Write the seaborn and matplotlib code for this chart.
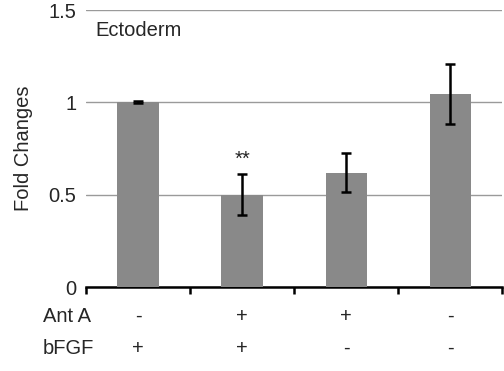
import matplotlib
matplotlib.use("Agg")
import matplotlib.pyplot as plt
import seaborn as sns
import pandas as pd
import numpy as np

conditions = ["c1", "c2", "c3", "c4"]
fold_changes = [1.0, 0.50, 0.62, 1.045]
errors = [0.005, 0.11, 0.105, 0.162]
ant_a = ["-", "+", "+", "-"]
bfgf = ["+", "+", "-", "-"]
significance = ["", "**", "", ""]
yticks = [0, 0.5, 1, 1.5]
ytick_labels = ["0", "0.5", "1", "1.5"]

sns.set_theme(style="white")
plt.rcParams['font.family'] = ['Liberation Sans', 'DejaVu Sans']
FS = 14.5

df = pd.DataFrame({"cond": conditions, "val": fold_changes})

fig = plt.figure(figsize=(5.04, 3.71), dpi=100)
ax = fig.add_axes([0.171, 0.2264, 0.826, 0.7466])

sns.barplot(data=df, x="cond", y="val", color="#898989", saturation=1,
            width=0.4, ax=ax, errorbar=None, zorder=3, linewidth=0)
ax.errorbar(np.arange(len(conditions)), fold_changes, yerr=errors, fmt="none",
            ecolor="black", elinewidth=1.8, capsize=3.5, capthick=1.8, zorder=4)

ax.set_xlim(-0.5, 3.5)
ax.set_ylim(0, 1.5)
ax.set_yticks(yticks)
ax.set_yticklabels(ytick_labels, fontsize=FS)
ax.yaxis.grid(True, color="#9a9a9a", linewidth=1)
ax.set_axisbelow(True)
ax.tick_params(axis="y", length=0, pad=7)
ax.set_xticks(np.arange(-0.5, 4.0, 1.0))
ax.set_xticklabels([])
ax.tick_params(axis="x", direction="out", length=5, width=1.8, color="black", bottom=True)
ax.set_xlabel("")
ax.set_ylabel("Fold Changes", fontsize=FS, labelpad=11)

for s in ["top", "right", "left"]:
    ax.spines[s].set_visible(False)
ax.spines["bottom"].set_color("black")
ax.spines["bottom"].set_linewidth(1.8)

ax.text(0.022, 0.925, "Ectoderm", transform=ax.transAxes, fontsize=FS, va="center", ha="left")

for i, s in enumerate(significance):
    if s:
        ax.text(i, fold_changes[i] + errors[i] + 0.03, s, ha="center", va="bottom", fontsize=FS)

trans = matplotlib.transforms.blended_transform_factory(ax.transData, fig.transFigure)
row_y = [1 - 316/371, 1 - 348/371]
fig.text(43/504, row_y[0], "Ant A", fontsize=FS, va="center", ha="left")
fig.text(43/504, row_y[1], "bFGF", fontsize=FS, va="center", ha="left")
for i in range(len(conditions)):
    ax.text(i, row_y[0], ant_a[i], transform=trans, ha="center", va="center", fontsize=FS)
    ax.text(i, row_y[1], bfgf[i], transform=trans, ha="center", va="center", fontsize=FS)

fig.savefig("out.png", dpi=100)
